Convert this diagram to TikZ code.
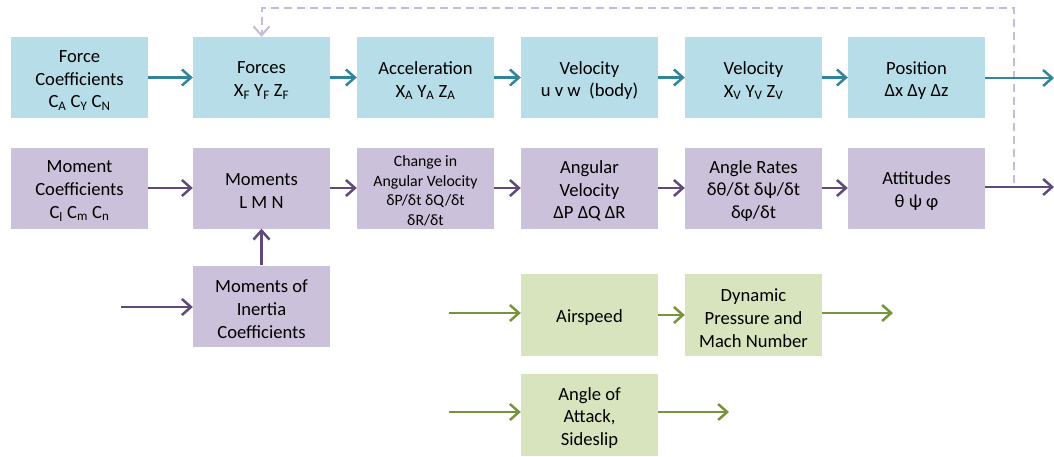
\documentclass[tikz,border=0pt]{standalone}
\usepackage{fontspec}
\setmainfont{Carlito}
\usetikzlibrary{arrows.meta}
\definecolor{bluefill}{HTML}{B7DDE8}
\definecolor{blueline}{HTML}{31849B}
\definecolor{purplefill}{HTML}{CCC1DA}
\definecolor{purpleline}{HTML}{604A7B}
\definecolor{greenfill}{HTML}{D7E4BD}
\definecolor{greenline}{HTML}{77933C}
\definecolor{feedback}{HTML}{C6BAD8}
\newcommand{\lowidx}[1]{\textsubscript{#1}}
\tikzset{
  box/.style={rectangle, minimum width=137pt, minimum height=81pt, inner sep=0pt},
  boxtext/.style={align=center, inner sep=0pt, yshift=-3pt, text=black,
    font=\fontsize{18.6}{22.7}\selectfont},
  smalltext/.style={boxtext, font=\fontsize{15.8}{19.5}\selectfont},
  bluebox/.style={box, fill=bluefill},
  purplebox/.style={box, fill=purplefill},
  greenbox/.style={box, fill=greenfill, minimum height=82pt},
  flow/.style={line width=2.5pt, -{Straight Barb[length=9pt, width=16pt, line width=2.5pt]}},
  blueflow/.style={flow, draw=blueline},
  purpleflow/.style={flow, draw=purpleline},
  greenflow/.style={flow, draw=greenline},
  loopback/.style={line width=2pt, draw=feedback, dash pattern=on 8pt off 5pt,
    -{Straight Barb[length=9pt, width=16pt, line width=2pt]}}
}
\begin{document}
\begin{tikzpicture}[x=1pt, y=-1pt]
\useasboundingbox (0,0) rectangle (1054,456);

% translational chain
\node[bluebox, label={[boxtext]center:{Force\\Coefficients\\C\lowidx{A} C\lowidx{Y} C\lowidx{N}}}] (fc) at (79.5,77.5) {};
\node[bluebox, label={[boxtext]center:{Forces\\X\lowidx{F} Y\lowidx{F} Z\lowidx{F}}}] (forces) at (261.5,77.5) {};
\node[bluebox, label={[boxtext]center:{Acceleration\\X\lowidx{A} Y\lowidx{A} Z\lowidx{A}}}] (acc) at (425.5,77.5) {};
\node[bluebox, label={[boxtext]center:{Velocity\\u v w\ \ (body)}}] (vel) at (589.5,77.5) {};
\node[bluebox, label={[boxtext]center:{Velocity\\X\lowidx{V} Y\lowidx{V} Z\lowidx{V}}}] (velv) at (753.5,77.5) {};
\node[bluebox, label={[boxtext]center:{Position\\Δx Δy Δz}}] (pos) at (916.5,77.5) {};

% rotational chain
\node[purplebox, label={[boxtext]center:{Moment\\Coefficients\\C\lowidx{l} C\lowidx{m} C\lowidx{n}}}] (mc) at (79.5,188) {};
\node[purplebox, label={[boxtext]center:{Moments\\L M N}}] (mom) at (261.5,188) {};
\node[purplebox, label={[smalltext]center:{Change in\\Angular Velocity\\δP/δt δQ/δt\\δR/δt}}] (chg) at (425.5,188) {};
\node[purplebox, label={[boxtext]center:{Angular\\Velocity\\ΔP ΔQ ΔR}}] (angv) at (589.5,188) {};
\node[purplebox, label={[boxtext]center:{Angle Rates\\δθ/δt δψ/δt\\δφ/δt}}] (rates) at (753.5,188) {};
\node[purplebox, label={[boxtext]center:{Attitudes\\θ ψ φ}}] (att) at (916.5,188) {};
\node[purplebox, label={[boxtext]center:{Moments of\\Inertia\\Coefficients}}] (inert) at (261.5,306) {};

% air data
\node[greenbox, label={[boxtext]center:{Airspeed}}] (air) at (589.5,315) {};
\node[greenbox, label={[boxtext]center:{Dynamic\\Pressure and\\Mach Number}}] (dyn) at (753.5,315) {};
\node[greenbox, label={[boxtext]center:{Angle of\\Attack,\\Sideslip}}] (aoa) at (589.5,415) {};

% free ends
\coordinate (posout)  at (1054,78);
\coordinate (attout)  at (1054,187);
\coordinate (inertin) at (121,307);
\coordinate (airin)   at (449,313);
\coordinate (dynout)  at (893,313);
\coordinate (aoain)   at (449,412);
\coordinate (aoaout)  at (729,412);
\coordinate (fbstart) at (1014,183);
\coordinate (fbtop)   at (1014,8);

% feedback loop
\draw[loopback] (fbstart) -- (fbtop) -| (forces.north);

% connectors
\draw[blueflow] (fc) -- (forces);
\draw[blueflow] (forces) -- (acc);
\draw[blueflow] (acc) -- (vel);
\draw[blueflow] (vel) -- (velv);
\draw[blueflow] (velv) -- (pos);
\draw[blueflow] (pos.east |- posout) -- (posout);

\draw[purpleflow] (mc) -- (mom);
\draw[purpleflow] (mom) -- (chg);
\draw[purpleflow] (chg) -- (angv);
\draw[purpleflow] (angv) -- (rates);
\draw[purpleflow] (rates) -- (att);
\draw[purpleflow] (att.east |- attout) -- (attout);
\draw[purpleflow] (inert) -- (mom);
\draw[purpleflow] (inertin) -- (inert.west |- inertin);

\draw[greenflow] (airin) -- (air.west |- airin);
\draw[greenflow] (air) -- (dyn);
\draw[greenflow] (dyn.east |- dynout) -- (dynout);
\draw[greenflow] (aoain) -- (aoa.west |- aoain);
\draw[greenflow] (aoa.east |- aoaout) -- (aoaout);
\end{tikzpicture}
\end{document}
